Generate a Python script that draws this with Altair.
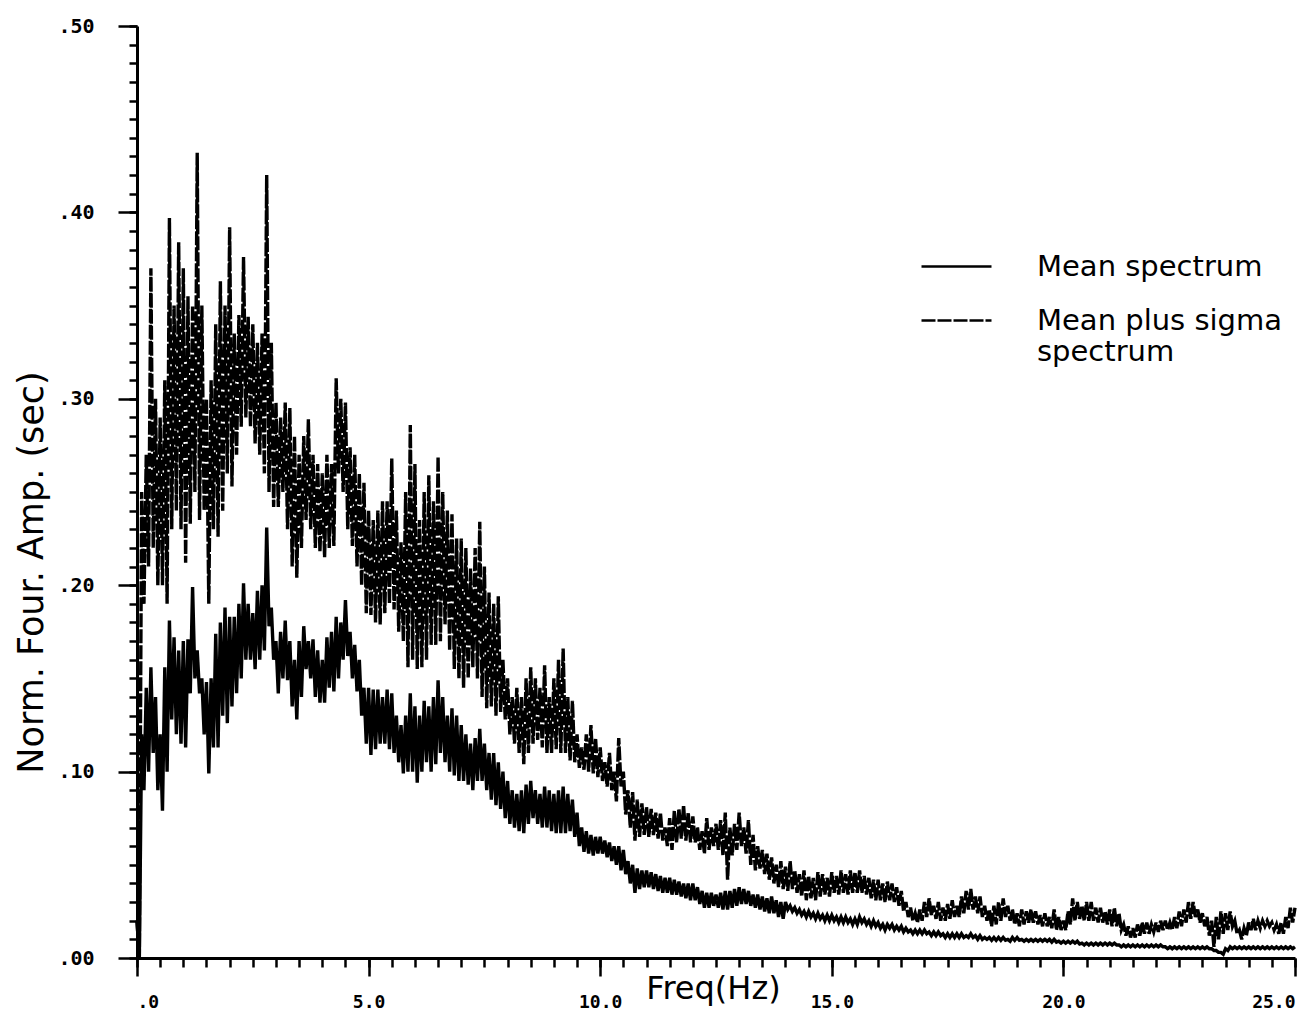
import altair as alt
import pandas as pd

# Frequency grid (Hz); each bin holds the upper and lower excursion of the trace
STEP = 0.1
freq = [round(i * STEP, 1) for i in range(251)]

# Mean plus sigma spectrum: upper / lower excursion per 0.1 Hz bin
sigma_hi = [
    0.02, 0.25, 0.27, 0.37, 0.30, 0.29, 0.31, 0.397, 0.35, 0.384,
    0.37, 0.355, 0.35, 0.432, 0.35, 0.30, 0.31, 0.34, 0.363, 0.35,
    0.392, 0.335, 0.345, 0.376, 0.344, 0.34, 0.33, 0.335, 0.42, 0.33,
    0.298, 0.29, 0.298, 0.295, 0.28, 0.27, 0.28, 0.289, 0.27, 0.265,
    0.26, 0.27, 0.265, 0.311, 0.30, 0.298, 0.274, 0.27, 0.26, 0.255,
    0.24, 0.235, 0.24, 0.245, 0.245, 0.268, 0.24, 0.223, 0.25, 0.286,
    0.265, 0.235, 0.25, 0.259, 0.245, 0.269, 0.25, 0.24, 0.238, 0.225,
    0.225, 0.22, 0.209, 0.22, 0.234, 0.21, 0.196, 0.19, 0.194, 0.16,
    0.15, 0.14, 0.145, 0.14, 0.15, 0.156, 0.15, 0.145, 0.157, 0.14,
    0.15, 0.16, 0.166, 0.14, 0.138, 0.12, 0.113, 0.12, 0.125, 0.118,
    0.113, 0.105, 0.11, 0.1, 0.118, 0.1, 0.09, 0.089, 0.085, 0.083,
    0.081, 0.08, 0.078, 0.078, 0.07, 0.075, 0.079, 0.08, 0.082, 0.078,
    0.076, 0.07, 0.068, 0.075, 0.07, 0.072, 0.074, 0.078, 0.07, 0.072,
    0.078, 0.07, 0.074, 0.066, 0.06, 0.058, 0.056, 0.054, 0.05, 0.052,
    0.049, 0.052, 0.047, 0.045, 0.047, 0.044, 0.043, 0.046, 0.045, 0.043,
    0.046, 0.044, 0.047, 0.045, 0.047, 0.046, 0.047, 0.044, 0.043, 0.042,
    0.042, 0.04, 0.041, 0.04, 0.038, 0.036, 0.03, 0.027, 0.024, 0.026,
    0.03, 0.032, 0.028, 0.03, 0.027, 0.029, 0.031, 0.028, 0.033, 0.036,
    0.037, 0.033, 0.033, 0.028, 0.026, 0.028, 0.03, 0.032, 0.028, 0.026,
    0.024, 0.026, 0.025, 0.026, 0.025, 0.023, 0.024, 0.022, 0.026, 0.022,
    0.02, 0.025, 0.032, 0.03, 0.028, 0.03, 0.03, 0.027, 0.027, 0.025,
    0.026, 0.027, 0.024, 0.018, 0.017, 0.016, 0.018, 0.019, 0.019, 0.018,
    0.019, 0.02, 0.02, 0.019, 0.022, 0.025, 0.026, 0.03, 0.03, 0.026,
    0.024, 0.022, 0.02, 0.022, 0.025, 0.024, 0.025, 0.02, 0.015, 0.016,
    0.019, 0.021, 0.02, 0.02, 0.02, 0.019, 0.018, 0.019, 0.022, 0.027,
    0.027,
]
sigma_lo = [
    0.0, 0.19, 0.21, 0.22, 0.2, 0.2, 0.19, 0.23, 0.24, 0.23,
    0.212, 0.233, 0.25, 0.235, 0.24, 0.19, 0.23, 0.226, 0.24, 0.26,
    0.253, 0.27, 0.285, 0.29, 0.285, 0.276, 0.27, 0.26, 0.25, 0.242,
    0.242, 0.25, 0.23, 0.21, 0.204, 0.22, 0.235, 0.23, 0.22, 0.218,
    0.215, 0.22, 0.221, 0.26, 0.25, 0.23, 0.221, 0.21, 0.2, 0.185,
    0.184, 0.18, 0.179, 0.185, 0.19, 0.187, 0.175, 0.17, 0.156, 0.16,
    0.155, 0.156, 0.16, 0.168, 0.168, 0.17, 0.179, 0.165, 0.155, 0.15,
    0.145, 0.15, 0.156, 0.15, 0.14, 0.134, 0.135, 0.13, 0.132, 0.128,
    0.12, 0.115, 0.11, 0.104, 0.11, 0.115, 0.117, 0.113, 0.11, 0.11,
    0.112, 0.11, 0.11, 0.106, 0.105, 0.102, 0.101, 0.1, 0.099, 0.097,
    0.095, 0.092, 0.09, 0.084, 0.092, 0.077, 0.07, 0.063, 0.065, 0.066,
    0.065, 0.066, 0.064, 0.063, 0.06, 0.058, 0.062, 0.064, 0.063, 0.062,
    0.062, 0.058, 0.056, 0.058, 0.06, 0.058, 0.055, 0.042, 0.055, 0.058,
    0.06, 0.056, 0.05, 0.047, 0.048, 0.045, 0.042, 0.04, 0.038, 0.037,
    0.036, 0.037, 0.035, 0.033, 0.031, 0.032, 0.031, 0.033, 0.034, 0.033,
    0.035, 0.034, 0.035, 0.034, 0.035, 0.035, 0.035, 0.034, 0.032, 0.031,
    0.031, 0.03, 0.031, 0.03, 0.028, 0.025, 0.022, 0.02, 0.019, 0.02,
    0.022, 0.023, 0.021, 0.02, 0.02, 0.021, 0.022, 0.022, 0.024, 0.026,
    0.026, 0.024, 0.022, 0.02, 0.017, 0.018, 0.02, 0.022, 0.02, 0.018,
    0.017, 0.018, 0.019, 0.019, 0.018, 0.017, 0.017, 0.016, 0.015, 0.015,
    0.015, 0.018, 0.02, 0.021, 0.02, 0.02, 0.02, 0.019, 0.019, 0.018,
    0.017, 0.017, 0.015, 0.012, 0.011, 0.011, 0.012, 0.013, 0.013, 0.014,
    0.014, 0.015, 0.015, 0.015, 0.016, 0.017, 0.019, 0.021, 0.022, 0.019,
    0.017, 0.012, 0.006, 0.01, 0.013, 0.015, 0.017, 0.013, 0.01, 0.012,
    0.015, 0.015, 0.016, 0.017, 0.017, 0.015, 0.013, 0.013, 0.016, 0.019,
    0.019,
]

# Mean spectrum: upper / lower excursion per 0.1 Hz bin
mean_hi = [
    0.02, 0.12, 0.145, 0.156, 0.14, 0.12, 0.156, 0.181, 0.172, 0.165,
    0.17, 0.171, 0.199, 0.165, 0.15, 0.148, 0.15, 0.174, 0.18, 0.188,
    0.183, 0.183, 0.19, 0.201, 0.19, 0.185, 0.197, 0.2, 0.231, 0.188,
    0.17, 0.175, 0.181, 0.17, 0.16, 0.17, 0.178, 0.17, 0.171, 0.165,
    0.16, 0.172, 0.175, 0.183, 0.18, 0.192, 0.175, 0.168, 0.16, 0.145,
    0.145, 0.144, 0.144, 0.14, 0.144, 0.142, 0.13, 0.125, 0.13, 0.142,
    0.135, 0.13, 0.138, 0.135, 0.14, 0.149, 0.14, 0.13, 0.134, 0.13,
    0.125, 0.12, 0.115, 0.118, 0.123, 0.115, 0.11, 0.11, 0.105, 0.1,
    0.095, 0.09, 0.088, 0.09, 0.093, 0.095, 0.09, 0.088, 0.092, 0.09,
    0.088, 0.09, 0.092, 0.088, 0.085, 0.078, 0.07, 0.068, 0.066, 0.065,
    0.065, 0.063, 0.062, 0.06, 0.06, 0.058, 0.052, 0.05, 0.048, 0.047,
    0.047, 0.046, 0.045, 0.044, 0.043, 0.043, 0.042, 0.041, 0.04, 0.04,
    0.04, 0.038, 0.036, 0.035, 0.035, 0.034, 0.035, 0.036, 0.036, 0.037,
    0.038, 0.037, 0.036, 0.034, 0.034, 0.033, 0.032, 0.033, 0.031, 0.03,
    0.03, 0.028, 0.027, 0.026, 0.025, 0.025, 0.024, 0.024, 0.023, 0.023,
    0.023, 0.022, 0.022, 0.022, 0.021, 0.021, 0.022, 0.021, 0.02, 0.02,
    0.019, 0.018, 0.018, 0.018, 0.017, 0.017, 0.016, 0.015, 0.015, 0.015,
    0.015, 0.014, 0.014, 0.014, 0.013, 0.013, 0.013, 0.013, 0.013, 0.012,
    0.013, 0.012, 0.012, 0.011, 0.011, 0.011, 0.011, 0.011, 0.01, 0.011,
    0.011, 0.01, 0.01, 0.01, 0.01, 0.01, 0.01, 0.01, 0.01, 0.009,
    0.009, 0.009, 0.009, 0.009, 0.008, 0.008, 0.008, 0.008, 0.008, 0.008,
    0.008, 0.008, 0.007, 0.007, 0.007, 0.007, 0.007, 0.007, 0.007, 0.007,
    0.007, 0.007, 0.006, 0.006, 0.006, 0.006, 0.006, 0.006, 0.006, 0.006,
    0.006, 0.006, 0.005, 0.004, 0.003, 0.005, 0.006, 0.006, 0.006, 0.006,
    0.006, 0.006, 0.006, 0.006, 0.006, 0.006, 0.006, 0.006, 0.006, 0.006,
    0.006,
]
mean_lo = [
    0.0, 0.09, 0.1, 0.11, 0.09, 0.079, 0.1, 0.128, 0.12, 0.115,
    0.113, 0.142, 0.15, 0.142, 0.12, 0.099, 0.113, 0.113, 0.13, 0.126,
    0.135, 0.142, 0.15, 0.16, 0.16, 0.155, 0.16, 0.165, 0.178, 0.16,
    0.142, 0.15, 0.149, 0.135, 0.128, 0.14, 0.155, 0.15, 0.14, 0.137,
    0.137, 0.145, 0.143, 0.15, 0.16, 0.162, 0.15, 0.143, 0.13, 0.115,
    0.109, 0.112, 0.115, 0.115, 0.112, 0.11, 0.105, 0.099, 0.1, 0.1,
    0.094, 0.1, 0.105, 0.1, 0.104, 0.11, 0.105, 0.1, 0.098, 0.095,
    0.095, 0.093, 0.09, 0.095, 0.095, 0.09, 0.085, 0.082, 0.08, 0.075,
    0.072, 0.07, 0.068, 0.067, 0.072, 0.075, 0.072, 0.07, 0.07, 0.068,
    0.067, 0.067, 0.067, 0.068, 0.065, 0.06, 0.057, 0.056, 0.055, 0.056,
    0.056, 0.054, 0.052, 0.05, 0.047, 0.045, 0.04, 0.035, 0.037, 0.038,
    0.038, 0.037, 0.036, 0.035, 0.035, 0.034, 0.034, 0.033, 0.032, 0.031,
    0.031, 0.029, 0.027, 0.027, 0.028, 0.027, 0.026, 0.026, 0.027, 0.028,
    0.029, 0.029, 0.028, 0.027, 0.026, 0.025, 0.024, 0.024, 0.022, 0.021,
    0.026, 0.025, 0.024, 0.023, 0.022, 0.022, 0.021, 0.021, 0.02, 0.02,
    0.02, 0.019, 0.019, 0.019, 0.018, 0.018, 0.019, 0.018, 0.017, 0.017,
    0.016, 0.015, 0.016, 0.015, 0.015, 0.014, 0.014, 0.013, 0.013, 0.013,
    0.013, 0.012, 0.012, 0.012, 0.011, 0.011, 0.011, 0.011, 0.011, 0.011,
    0.011, 0.01, 0.01, 0.01, 0.0095, 0.0095, 0.0095, 0.0095, 0.009, 0.0095,
    0.0095, 0.009, 0.009, 0.009, 0.009, 0.009, 0.009, 0.0085, 0.0085, 0.008,
    0.008, 0.008, 0.008, 0.0075, 0.007, 0.007, 0.007, 0.007, 0.007, 0.007,
    0.007, 0.007, 0.006, 0.006, 0.006, 0.006, 0.006, 0.006, 0.006, 0.006,
    0.006, 0.006, 0.005, 0.005, 0.005, 0.005, 0.005, 0.005, 0.005, 0.005,
    0.005, 0.005, 0.004, 0.003, 0.002, 0.004, 0.005, 0.005, 0.005, 0.005,
    0.005, 0.005, 0.005, 0.005, 0.005, 0.005, 0.005, 0.005, 0.005, 0.005,
    0.005,
]

SERIES = ["Mean spectrum", "Mean plus sigma spectrum"]

# Build the trace: within each bin the curve swings from its upper to its lower value
rows = []
for name, hi, lo in ((SERIES[0], mean_hi, mean_lo), (SERIES[1], sigma_hi, sigma_lo)):
    for i, f in enumerate(freq):
        rows.append({"series": name, "freq": f, "amp": hi[i], "seq": 2 * i})
        if i < len(freq) - 1:
            rows.append({"series": name, "freq": round(f + STEP / 2, 2), "amp": lo[i], "seq": 2 * i + 1})
df = pd.DataFrame(rows)

x_major = [0, 5, 10, 15, 20, 25]
x_minor = [i * 0.5 for i in range(51)]
y_major = [0.0, 0.1, 0.2, 0.3, 0.4, 0.5]
y_minor = [round(i * 0.01, 2) for i in range(51)]

x_scale = alt.Scale(domain=[0, 25], nice=False, zero=False)
y_scale = alt.Scale(domain=[0, 0.5], nice=False)

TICK_FONT = "DejaVu Sans Mono"
TITLE_FONT = "DejaVu Sans"

legend_style = dict(
    title=None, orient="none", legendX=783, legendY=204,
    symbolType="stroke", symbolSize=4900, symbolStrokeWidth=2.5,
    labelFont=TITLE_FONT, labelFontSize=29, labelColor="black",
    labelOffset=44, labelLimit=0, rowPadding=2,
    labelExpr="datum.label == 'Mean plus sigma spectrum' ? ['Mean plus sigma', 'spectrum'] : datum.label",
)

traces = alt.Chart(df).mark_line(strokeWidth=3.4, interpolate="linear").encode(
    x=alt.X(
        "freq:Q", scale=x_scale,
        axis=alt.Axis(
            orient="bottom", values=x_major, tickSize=18, tickWidth=2.5,
            labelExpr="datum.value == 0 ? '.0' : format(datum.value, '.1f')",
            labelFont=TICK_FONT, labelFontWeight="bold", labelFontSize=18,
            labelBaseline="middle", labelPadding=26, labelColor="black",
            title="Freq(Hz)", titleFont=TITLE_FONT, titleFontWeight="normal",
            titleFontSize=32, titleX=576, titleY=30, titleAlign="center",
            titleBaseline="middle", titleColor="black",
            domainWidth=3, domainColor="black", tickColor="black", grid=False,
        ),
    ),
    y=alt.Y(
        "amp:Q", scale=y_scale,
        axis=alt.Axis(
            orient="left", values=y_major, tickSize=19, tickWidth=2.5,
            labelExpr="substring(format(datum.value, '.2f'), 1)",
            labelFont=TICK_FONT, labelFontWeight="bold", labelFontSize=20,
            labelPadding=24, labelColor="black",
            title="Norm. Four. Amp. (sec)", titleFont=TITLE_FONT,
            titleFontWeight="normal", titleFontSize=35, titleX=-106, titleY=546,
            titleAlign="center", titleBaseline="middle", titleColor="black",
            domainWidth=3, domainColor="black", tickColor="black", grid=False,
        ),
    ),
    order="seq:Q",
    color=alt.Color(
        "series:N",
        scale=alt.Scale(domain=SERIES, range=["black", "black"]),
        legend=alt.Legend(**legend_style),
    ),
    strokeDash=alt.StrokeDash(
        "series:N",
        scale=alt.Scale(domain=SERIES, range=[[1, 0], [14, 2]]),
        legend=alt.Legend(**legend_style),
    ),
)

# Minor tick marks on both axes, drawn by an invisible copy of the trace
minor = alt.Chart(df).mark_line(strokeOpacity=0).encode(
    x=alt.X(
        "freq:Q", scale=x_scale,
        axis=alt.Axis(orient="bottom", values=x_minor, tickSize=9, tickWidth=2.5,
                      labels=False, title=None, domain=False, tickColor="black", grid=False),
    ),
    y=alt.Y(
        "amp:Q", scale=y_scale,
        axis=alt.Axis(orient="left", values=y_minor, tickSize=8, tickWidth=2.5,
                      labels=False, title=None, domain=False, tickColor="black", grid=False),
    ),
    detail="series:N",
)

chart = alt.layer(minor, traces).resolve_axis(x="independent", y="independent").properties(
    width=1158,
    height=932,
    autosize=alt.AutoSizeParams(type="none"),
    padding={"left": 137, "top": 26, "right": 21, "bottom": 58},
    background="white",
).configure_view(stroke=None)

chart.save("out.html", embed_options={"renderer": "svg", "actions": False})
